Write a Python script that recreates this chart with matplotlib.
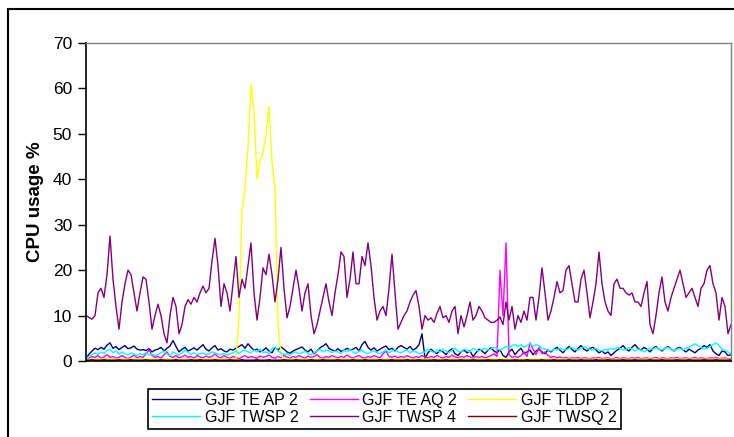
import matplotlib
matplotlib.use('Agg')
import matplotlib.pyplot as plt
from matplotlib.patches import Rectangle
import numpy as np

plt.rcParams['font.family'] = ['Liberation Sans', 'DejaVu Sans']

# CPU usage samples (%), one value per sample
teap2 = [0.5, 1.5, 2.2, 2.8, 2.5, 3.0, 2.6, 3.5, 4.0, 2.8, 3.2, 2.5,
         3.0, 3.4, 2.7, 2.9, 3.3, 2.6, 2.4, 2.5, 2.3, 2.7, 2.0, 2.4,
         2.6, 3.0, 2.2, 2.8, 3.3, 4.5, 3.2, 2.0, 2.6, 3.0, 2.2, 2.5,
         2.9, 2.4, 3.0, 3.6, 2.6, 2.2, 2.9, 3.4, 2.4, 2.7, 2.2, 2.0,
         2.6, 2.4, 2.8, 3.2, 3.6, 2.8, 3.8, 3.0, 2.4, 2.6, 2.0, 2.3,
         2.9, 2.2, 1.8, 3.0, 2.4, 3.1, 2.6, 2.0, 1.7, 2.2, 2.5, 2.8,
         3.1, 2.4, 2.0, 2.6, 1.6, 2.2, 2.9, 3.3, 3.8, 2.8, 2.4, 2.2,
         2.7, 2.1, 2.4, 2.8, 2.4, 2.6, 3.0, 2.2, 3.6, 4.3, 3.0, 2.4,
         2.9, 2.2, 2.6, 3.0, 3.3, 2.5, 2.8, 2.2, 3.0, 3.4, 3.0, 2.6,
         3.2, 2.4, 2.8, 3.6, 6.0, 0.6, 1.8, 2.6, 2.0, 1.6, 2.4, 2.0,
         1.4, 2.2, 2.7, 1.6, 1.2, 2.0, 2.4, 1.8, 2.2, 1.0, 1.8, 2.6,
         2.2, 1.6, 2.4, 2.9, 2.2, 1.8, 2.5, 1.2, 0.8, 2.0, 2.6, 1.4,
         2.2, 2.8, 1.6, 2.0, 2.4, 1.4, 2.2, 2.6, 2.0, 1.6, 2.4, 2.0,
         2.6, 3.0, 2.4, 1.8, 2.6, 3.2, 2.5, 2.0, 2.8, 3.4, 2.6, 2.2,
         2.8, 3.0, 2.4, 1.8, 2.2, 1.6, 2.0, 1.2, 1.8, 2.4, 2.8, 3.4,
         2.6, 2.2, 3.0, 3.6, 2.8, 2.4, 3.0, 2.6, 2.0, 2.8, 3.2, 2.6,
         2.2, 2.8, 3.2, 2.6, 2.2, 2.8, 3.0, 2.4, 2.0, 2.6, 2.2, 1.8,
         2.4, 2.8, 3.4, 3.0, 3.6, 2.2, 1.6, 1.2, 2.2, 2.0, 1.2, 1.4]

teaq2 = [0.3, 0.6, 1.0, 0.8, 1.2, 0.6, 0.9, 1.4, 0.8, 1.0, 0.6, 0.8,
         1.2, 0.8, 0.5, 0.9, 1.3, 0.7, 1.0, 0.8, 1.6, 2.4, 1.2, 0.8,
         1.0, 0.6, 1.4, 2.0, 1.0, 0.8, 1.2, 0.7, 0.9, 1.3, 0.8, 1.0,
         0.6, 1.2, 0.9, 0.7, 1.1, 0.8, 1.0, 1.6, 0.9, 0.7, 1.2, 0.8,
         0.6, 1.0, 0.8, 0.5, 0.9, 1.2, 0.7, 1.0, 0.8, 0.6, 1.1, 0.8,
         1.0, 1.3, 0.8, 0.6, 1.0, 0.7, 1.2, 0.9, 0.6, 1.0, 0.8, 1.2,
         0.9, 0.6, 1.1, 0.8, 1.0, 1.4, 0.8, 0.6, 1.0, 0.8, 1.2, 0.9,
         0.7, 1.0, 0.8, 1.3, 0.9, 0.6, 1.0, 1.2, 0.8, 0.6, 1.0, 0.8,
         1.2, 0.9, 0.7, 1.6, 2.2, 1.0, 0.8, 1.1, 0.7, 1.0, 0.8, 1.2,
         0.9, 0.6, 1.0, 0.8, 1.2, 0.9, 0.7, 1.0, 0.8, 1.2, 0.9, 0.6,
         1.0, 0.8, 1.3, 0.9, 0.7, 1.0, 0.8, 1.2, 0.9, 0.6, 1.0, 0.8,
         1.0, 0.7, 0.9, 1.2, 1.6, 1.0, 20.0, 10.0, 26.0, 1.4, 0.8, 1.0,
         0.8, 1.2, 2.0, 1.0, 4.0, 2.6, 1.4, 3.0, 1.6, 2.0, 1.2, 0.8,
         1.0, 0.7, 0.9, 0.6, 0.8, 0.5, 0.7, 0.6, 0.8, 0.5, 0.7, 0.6,
         0.5, 0.7, 0.6, 0.8, 0.5, 0.6, 0.7, 0.5, 0.6, 0.8, 0.5, 0.7,
         0.6, 0.5, 0.7, 0.6, 0.8, 0.5, 0.6, 0.7, 0.5, 0.6, 0.8, 0.5,
         0.7, 0.6, 0.5, 0.7, 0.6, 0.8, 0.5, 0.6, 0.7, 0.5, 0.6, 0.8,
         0.5, 0.7, 0.6, 0.5, 0.7, 0.6, 0.8, 0.5, 0.6, 0.7, 0.5, 0.6]

tldp2 = [0.4, 0.4, 0.4, 0.4, 0.4, 0.4, 0.4, 0.4, 0.4, 0.4, 0.4, 0.4,
         0.4, 0.4, 0.4, 0.4, 0.4, 0.4, 0.4, 0.4, 0.4, 0.4, 0.4, 0.4,
         0.4, 0.4, 0.4, 0.4, 0.4, 0.4, 0.4, 0.4, 0.4, 0.4, 0.4, 0.4,
         0.4, 0.4, 0.4, 0.4, 0.4, 0.4, 0.4, 0.4, 0.4, 0.4, 0.4, 0.4,
         0.4, 0.4, 0.4, 10.0, 33.0, 38.0, 47.0, 61.0, 55.0, 40.0, 44.0, 46.0,
         50.0, 56.0, 44.0, 38.0, 8.0, 1.5, 0.4, 0.4, 0.4, 0.4, 0.4, 0.4,
         0.4, 0.4, 0.4, 0.4, 0.4, 0.4, 0.4, 0.4, 0.4, 0.4, 0.4, 0.4,
         0.4, 0.4, 0.4, 0.4, 0.4, 0.4, 0.4, 0.4, 0.4, 0.4, 0.4, 0.4,
         0.4, 0.4, 0.4, 0.4, 0.4, 0.4, 0.4, 0.4, 0.4, 0.4, 0.4, 0.4,
         0.4, 0.4, 0.4, 0.4, 0.4, 0.4, 0.4, 0.4, 0.4, 0.4, 0.4, 0.4,
         0.4, 0.4, 0.4, 0.4, 0.4, 0.4, 0.4, 0.4, 0.4, 0.4, 0.4, 0.4,
         0.4, 0.4, 0.4, 0.4, 0.4, 0.4, 0.4, 0.4, 0.4, 0.4, 0.4, 0.4,
         0.4, 0.4, 0.4, 0.4, 0.4, 0.4, 0.4, 0.4, 0.4, 0.4, 0.4, 0.4,
         0.4, 0.4, 0.4, 0.4, 0.4, 0.4, 0.4, 0.4, 0.4, 0.4, 0.4, 0.4,
         0.4, 0.4, 0.4, 0.4, 0.4, 0.4, 0.4, 0.4, 0.4, 0.4, 0.4, 0.4,
         0.4, 0.4, 0.4, 0.4, 0.4, 0.4, 0.4, 0.4, 0.4, 0.4, 0.4, 0.4,
         0.4, 0.4, 0.4, 0.4, 0.4, 0.4, 0.4, 0.4, 0.4, 0.4, 0.4, 0.4,
         0.4, 0.4, 0.4, 0.4, 0.4, 0.4, 0.4, 0.4, 0.4, 0.4, 0.4, 0.4]

twsp2 = [0.5, 1.0, 1.4, 1.8, 1.5, 2.0, 1.6, 2.4, 2.6, 1.8, 2.2, 1.5,
         2.0, 1.6, 1.3, 1.8, 1.5, 1.2, 1.6, 1.4, 1.8, 1.3, 1.5, 1.2,
         1.4, 1.8, 2.2, 1.5, 1.2, 2.0, 1.6, 1.3, 1.8, 2.4, 1.9, 1.5,
         1.8, 1.4, 1.6, 1.8, 1.4, 1.6, 2.0, 1.8, 1.5, 1.4, 1.7, 1.3,
         1.6, 1.8, 2.2, 1.6, 2.2, 2.4, 2.0, 1.8, 2.4, 2.0, 2.6, 1.8,
         2.0, 1.6, 2.8, 3.0, 2.2, 1.8, 1.4, 1.6, 1.2, 1.8, 2.0, 1.6,
         1.8, 2.2, 1.6, 1.4, 1.8, 2.2, 2.6, 2.0, 2.4, 2.2, 1.8, 2.2,
         2.0, 1.6, 2.4, 2.0, 2.6, 2.0, 1.6, 2.2, 2.4, 1.8, 1.6, 2.0,
         2.2, 1.8, 1.6, 2.0, 2.4, 1.8, 2.2, 2.6, 2.0, 1.8, 2.2, 2.4,
         1.8, 2.2, 2.0, 1.6, 1.8, 2.0, 2.6, 2.2, 1.8, 2.4, 2.0, 2.6,
         2.2, 1.8, 2.4, 2.8, 2.2, 2.0, 2.6, 2.4, 2.0, 2.8, 2.4, 2.2,
         2.6, 2.8, 2.4, 2.6, 3.0, 2.8, 2.4, 2.8, 3.2, 3.0, 3.4, 3.6,
         3.2, 3.6, 3.0, 3.4, 3.8, 3.2, 3.6, 3.4, 2.8, 2.6, 2.4, 2.2,
         2.6, 2.4, 2.8, 2.6, 2.4, 2.8, 3.0, 2.6, 2.4, 2.8, 3.2, 2.8,
         2.6, 2.4, 2.8, 2.4, 2.2, 2.6, 2.4, 2.8, 2.6, 3.0, 2.8, 2.4,
         2.6, 3.0, 2.6, 2.2, 2.6, 2.4, 2.0, 2.4, 2.8, 2.6, 3.0, 2.6,
         2.4, 2.8, 3.0, 2.6, 2.2, 2.6, 2.8, 2.4, 2.8, 3.0, 3.4, 3.8,
         3.4, 3.0, 2.6, 2.8, 3.2, 3.6, 4.0, 3.4, 2.6, 2.4, 2.0, 1.6]

twsp4 = [10.0, 9.6, 9.2, 10.0, 15.0, 16.0, 14.0, 19.0, 27.5, 18.0, 12.0, 7.0,
         13.0, 17.0, 20.0, 19.0, 15.0, 11.0, 15.0, 18.5, 18.0, 13.0, 7.0, 10.0,
         12.5, 10.0, 6.0, 4.0, 10.0, 14.0, 12.0, 6.0, 8.0, 12.0, 13.5, 12.5,
         14.0, 13.0, 15.0, 16.5, 15.0, 16.0, 22.0, 27.0, 21.0, 12.0, 17.0, 15.0,
         11.0, 17.0, 23.0, 14.0, 18.0, 16.0, 21.0, 26.0, 15.0, 9.0, 14.0, 20.5,
         19.0, 23.5, 19.0, 13.0, 18.0, 25.0, 16.0, 9.5, 12.0, 16.0, 20.0, 16.0,
         11.0, 15.0, 17.0, 10.0, 6.0, 8.0, 11.0, 14.0, 17.0, 13.0, 10.0, 15.0,
         19.0, 24.0, 23.0, 14.0, 18.0, 24.0, 17.0, 17.0, 23.0, 21.0, 26.0, 21.0,
         14.0, 9.0, 11.0, 12.0, 10.0, 16.0, 23.5, 15.0, 7.0, 8.5, 10.0, 11.0,
         13.0, 14.5, 15.5, 12.0, 7.0, 10.0, 9.0, 9.5, 8.5, 10.5, 12.0, 9.5,
         10.0, 8.5, 11.0, 12.0, 6.0, 10.0, 7.5, 10.0, 13.0, 9.0, 10.0, 12.0,
         11.0, 9.5, 9.0, 8.5, 8.5, 9.0, 9.7, 8.0, 13.0, 9.0, 12.0, 7.0,
         10.0, 8.5, 11.0, 9.0, 14.0, 14.0, 9.0, 14.0, 20.5, 15.0, 9.0, 11.0,
         14.0, 17.5, 15.0, 15.5, 20.0, 21.0, 17.0, 13.0, 13.0, 18.0, 20.0, 15.0,
         9.5, 13.0, 17.0, 24.0, 17.0, 13.0, 11.0, 10.0, 17.0, 18.0, 16.0, 16.0,
         15.0, 14.5, 15.0, 13.0, 13.0, 12.0, 15.0, 17.5, 8.0, 6.0, 10.0, 15.0,
         18.5, 13.0, 11.0, 14.0, 16.0, 18.0, 20.0, 17.0, 14.0, 15.0, 16.0, 14.0,
         12.0, 16.0, 17.0, 20.0, 21.0, 17.0, 15.0, 9.0, 14.0, 12.0, 6.0, 8.0]

twsq2 = [0.2, 0.2, 0.3, 0.2, 0.2, 0.2, 0.3, 0.2, 0.2, 0.2, 0.2, 0.3,
         0.2, 0.2, 0.2, 0.3, 0.2, 0.2, 0.2, 0.2, 0.3, 0.2, 0.2, 0.2,
         0.2, 0.3, 0.2, 0.2, 0.2, 0.2, 0.3, 0.2, 0.2, 0.2, 0.2, 0.3,
         0.2, 0.2, 0.3, 0.2, 0.2, 0.2, 0.2, 0.3, 0.2, 0.2, 0.2, 0.2,
         0.3, 0.2, 0.2, 0.2, 0.3, 0.2, 0.2, 0.2, 0.2, 0.3, 0.2, 0.2,
         0.2, 0.3, 0.2, 0.2, 0.2, 0.2, 0.3, 0.2, 0.2, 0.2, 0.3, 0.2,
         0.2, 0.2, 0.2, 0.3, 0.2, 0.2, 0.2, 0.3, 0.2, 0.2, 0.2, 0.2,
         0.3, 0.2, 0.2, 0.2, 0.2, 0.3, 0.2, 0.2, 0.2, 0.3, 0.2, 0.2,
         0.2, 0.2, 0.3, 0.2, 0.2, 0.2, 0.3, 0.2, 0.2, 0.2, 0.2, 0.3,
         0.2, 0.2, 0.2, 0.3, 0.2, 0.2, 0.2, 0.2, 0.3, 0.2, 0.2, 0.2,
         0.3, 0.2, 0.2, 0.2, 0.2, 0.3, 0.2, 0.2, 0.2, 0.3, 0.2, 0.2,
         0.2, 0.2, 0.3, 0.2, 0.2, 0.2, 0.3, 0.2, 0.2, 0.2, 0.2, 0.3,
         0.2, 0.2, 0.2, 0.3, 0.2, 0.2, 0.2, 0.2, 0.3, 0.2, 0.2, 0.2,
         0.3, 0.2, 0.2, 0.2, 0.2, 0.3, 0.2, 0.2, 0.2, 0.3, 0.2, 0.2,
         0.2, 0.2, 0.3, 0.2, 0.2, 0.2, 0.3, 0.2, 0.2, 0.2, 0.2, 0.3,
         0.2, 0.2, 0.2, 0.3, 0.2, 0.2, 0.2, 0.2, 0.3, 0.2, 0.2, 0.2,
         0.3, 0.2, 0.2, 0.2, 0.2, 0.3, 0.2, 0.2, 0.2, 0.3, 0.2, 0.2,
         0.2, 0.2, 0.3, 0.2, 0.2, 0.2, 0.3, 0.2, 0.2, 0.2, 0.2, 0.3]

names = ['GJF TE AP 2', 'GJF TE AQ 2', 'GJF TLDP 2',
         'GJF TWSP 2', 'GJF TWSP 4', 'GJF TWSQ 2']
series = [teap2, teaq2, tldp2, twsp2, twsp4, twsq2]
colors = ['#000080', '#FF00FF', '#FFFF00', '#00FFFF', '#800080', '#800000']

fig = plt.figure(figsize=(7.34, 4.37), dpi=100)
ax = fig.add_axes([86/734, 1 - 361/437, 645/734, 318/437])

x = np.arange(len(twsp4))
lines = {}
for name, vals, c in zip(names, series, colors):
    lines[name], = ax.plot(x, vals, color=c, lw=1.0, label=name)

ax.set_xlim(0, len(twsp4) - 1)
ax.set_ylim(0, 70)
ax.set_yticks(range(0, 71, 10))
ax.set_xticks([])
ax.tick_params(axis='y', direction='out', length=6, width=1, labelsize=12.5, pad=4)
ax.set_ylabel('CPU usage %', fontsize=13.5, fontweight='bold', labelpad=6)
for s in ['left', 'bottom']:
    ax.spines[s].set_color('black')
    ax.spines[s].set_linewidth(1.2)
for s in ['top', 'right']:
    ax.spines[s].set_color('#808080')
    ax.spines[s].set_linewidth(1.0)

# legend ordered row-wise like the original (3 columns)
order = ['GJF TE AP 2', 'GJF TWSP 2', 'GJF TE AQ 2', 'GJF TWSP 4', 'GJF TLDP 2', 'GJF TWSQ 2']
leg = fig.legend([lines[n] for n in order], order, ncol=3,
                 loc='upper left', bbox_to_anchor=(148/734, 1 - 389/437),
                 fontsize=11.5, frameon=True, fancybox=False, framealpha=1,
                 edgecolor='black', handlelength=3.0, handletextpad=0.3,
                 columnspacing=0.7, borderpad=0.25, labelspacing=0.1,
                 borderaxespad=0)
leg.get_frame().set_linewidth(1.2)

# outer chart border
fig.patches.append(Rectangle((8/734, -0.1), 1.2, 1 - 9/437 + 0.1,
                             transform=fig.transFigure, fill=False,
                             edgecolor='black', lw=1.5))

fig.savefig('out.png', dpi=100)
